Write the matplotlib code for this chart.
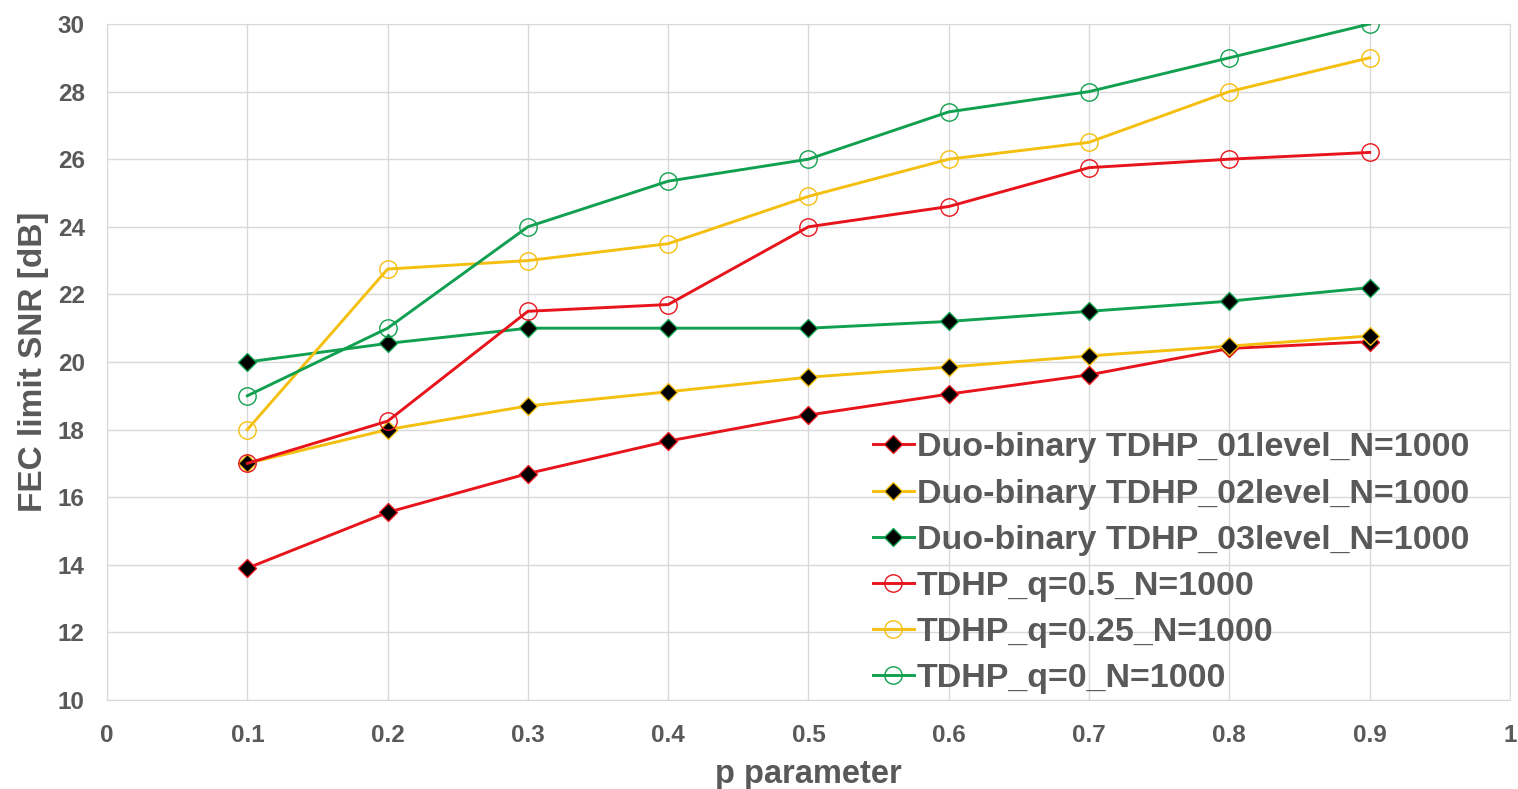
import matplotlib
matplotlib.use("Agg")
import matplotlib.pyplot as plt

plt.rcParams['font.family'] = ['Liberation Sans', 'DejaVu Sans']

p = [0.1, 0.2, 0.3, 0.4, 0.5, 0.6, 0.7, 0.8, 0.9]
duo_01 = [13.9, 15.55, 16.7, 17.66, 18.43, 19.05, 19.62, 20.4, 20.6]
duo_02 = [17.0, 18.0, 18.7, 19.12, 19.55, 19.85, 20.18, 20.47, 20.77]
duo_03 = [20.0, 20.55, 21.0, 21.0, 21.0, 21.2, 21.5, 21.8, 22.2]
tdhp_q05 = [17.0, 18.25, 21.5, 21.7, 24.0, 24.6, 25.75, 26.0, 26.2]
tdhp_q025 = [18.0, 22.75, 23.0, 23.5, 24.9, 26.0, 26.5, 28.0, 29.0]
tdhp_q0 = [19.0, 21.0, 24.0, 25.35, 26.0, 27.4, 28.0, 29.0, 30.0]

labels = ["Duo-binary TDHP_01level_N=1000",
          "Duo-binary TDHP_02level_N=1000",
          "Duo-binary TDHP_03level_N=1000",
          "TDHP_q=0.5_N=1000",
          "TDHP_q=0.25_N=1000",
          "TDHP_q=0_N=1000"]
xticks = [0, 0.1, 0.2, 0.3, 0.4, 0.5, 0.6, 0.7, 0.8, 0.9, 1]
xticklabels = ["0", "0.1", "0.2", "0.3", "0.4", "0.5", "0.6", "0.7", "0.8", "0.9", "1"]
yticks = [10, 12, 14, 16, 18, 20, 22, 24, 26, 28, 30]

RED = '#E8141C'
YEL = '#F5BF10'
GRN = '#10A050'
TXT = '#595959'
GRID = '#D9D9D9'

fig = plt.figure(figsize=(15.18, 7.89), dpi=100)
ax = fig.add_axes([0.0705, 0.1128, 0.9242, 0.8568])

lw = 2.1
for y, c, lab in [(duo_01, RED, labels[0]), (duo_02, YEL, labels[1]), (duo_03, GRN, labels[2])]:
    ax.plot(p, y, color=c, lw=lw, marker='D', markersize=9.5, markerfacecolor='black',
            markeredgecolor=c, markeredgewidth=1.0, label=lab, zorder=3)
for y, c, lab in [(tdhp_q05, RED, labels[3]), (tdhp_q025, YEL, labels[4]), (tdhp_q0, GRN, labels[5])]:
    ax.plot(p, y, color=c, lw=lw, marker='o', markersize=12.5, markerfacecolor='none',
            markeredgecolor=c, markeredgewidth=1.0, label=lab, zorder=4)

ax.set_xlim(0, 1)
ax.set_ylim(10, 30)
ax.set_xticks(xticks)
ax.set_xticklabels(xticklabels)
ax.set_yticks(yticks)
ax.grid(True, color=GRID, lw=1.0)
ax.set_axisbelow(True)
for s in ax.spines.values():
    s.set_color(GRID)
ax.tick_params(length=0, labelsize=17.5, labelcolor=TXT)
ax.tick_params(axis='y', pad=16)
ax.tick_params(axis='x', pad=17)
for t in ax.get_xticklabels() + ax.get_yticklabels():
    t.set_fontweight('bold')

ax.set_xlabel("p parameter", fontsize=23.5, fontweight='bold', color=TXT, labelpad=9)
ax.set_ylabel("FEC limit SNR [dB]", fontsize=24, fontweight='bold', color=TXT, labelpad=6)

leg = ax.legend(loc='upper left', bbox_to_anchor=(0.575, 0.452), bbox_transform=fig.transFigure,
                frameon=False, prop={'size': 24.5, 'weight': 'bold'}, handlelength=1.2,
                handletextpad=0.1, labelspacing=0.445, borderaxespad=0, borderpad=0)
for t in leg.get_texts():
    t.set_color(TXT)

fig.savefig("out.png", dpi=100)
